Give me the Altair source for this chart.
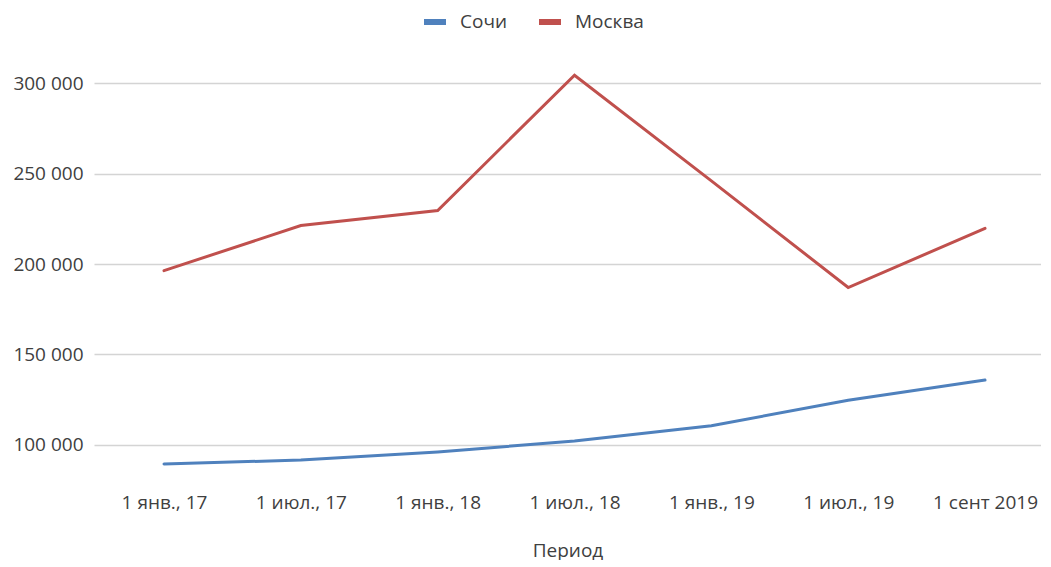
import altair as alt
import pandas as pd

categories = ["1 янв., 17", "1 июл., 17", "1 янв., 18", "1 июл., 18",
              "1 янв., 19", "1 июл., 19", "1 сент 2019"]
sochi = [89400, 91600, 96100, 102100, 110600, 124600, 135800]
moscow = [196300, 221300, 229600, 304400, 246000, 187000, 219700]
series_names = ["Сочи", "Москва"]
series_colors = ["#4F81BD", "#C0504D"]
y_ticks = [100000, 150000, 200000, 250000, 300000]

rows = []
for name, vals in zip(series_names, [sochi, moscow]):
    for i, (c, v) in enumerate(zip(categories, vals)):
        rows.append({"idx": i, "Период": c, "value": v, "series": name})
df = pd.DataFrame(rows)

FONT = "Open Sans"
TXT = "#404040"
cat_js = "[" + ",".join("'" + c + "'" for c in categories) + "]"

chart = alt.Chart(df).mark_line(strokeWidth=3, strokeCap="round", strokeJoin="miter").encode(
    x=alt.X("idx:Q", title="Период",
            scale=alt.Scale(domain=[-0.5116, 6.409], nice=False, zero=False),
            axis=alt.Axis(values=list(range(len(categories))), labelAngle=0, domain=False,
                          ticks=False, grid=False, labelPadding=12, titlePadding=29,
                          labelFontSize=19, titleFontSize=19, titleFontWeight="normal",
                          labelExpr=cat_js + "[round(datum.value)]",
                          labelColor=TXT, titleColor=TXT, labelFont=FONT, titleFont=FONT)),
    y=alt.Y("value:Q", scale=alt.Scale(domain=[80000, 320000], nice=False, zero=False),
            axis=alt.Axis(values=y_ticks, domain=False, ticks=False, title=None,
                          labelPadding=11, labelFontSize=19, labelColor=TXT, labelFont=FONT,
                          gridColor="#D4D4D4", gridWidth=1.6,
                          labelExpr="replace(format(datum.value, ',d'), ',', ' ')")),
    color=alt.Color("series:N", sort=series_names,
                    scale=alt.Scale(domain=series_names, range=series_colors),
                    legend=alt.Legend(title=None, orient="none", direction="horizontal",
                                      legendX=327, legendY=-39, padding=0,
                                      symbolType="stroke", symbolSize=484,
                                      symbolStrokeWidth=6, symbolOpacity=1,
                                      labelOffset=11, columnPadding=19,
                                      labelFontSize=19, labelFont=FONT, labelColor=TXT)),
).properties(
    width=947, height=434,
    padding={"left": 4, "top": 0, "right": 0, "bottom": 0},
).configure_view(stroke=None)

chart.save("out.html", embed_options={"renderer": "svg", "actions": False})
